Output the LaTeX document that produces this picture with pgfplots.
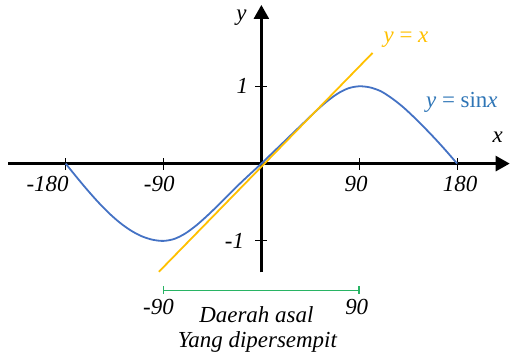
\documentclass[border=0pt]{standalone}
\usepackage{fontspec}
\setmainfont{Liberation Serif}
\usepackage{pgfplots}
\pgfplotsset{compat=1.18}
\usetikzlibrary{arrows.meta}
\definecolor{sinblue}{RGB}{68,114,196}
\definecolor{sinlab}{RGB}{46,117,182}
\definecolor{gold}{RGB}{255,192,0}
\definecolor{grn}{RGB}{40,180,100}
\tikzset{lab/.style={font=\fontsize{23}{27}\selectfont\itshape, inner sep=0pt}}
\begin{document}
\begin{tikzpicture}
\begin{axis}[
  scale only axis,
  width=502.9pt, height=268pt,
  xmin=-233, xmax=228.4, ymin=-1.406, ymax=2.052,
  axis lines=middle,
  axis line style={line width=2.6pt, -{Triangle[length=14pt,width=15pt]}},
  xtick={-180,-90,90,180}, ytick={-1,1},
  xticklabels={}, yticklabels={},
  tick align=center, major tick length=12pt,
  tick style={line width=1pt, black},
  clip=false,
]
\path (axis cs:-240.4,2.116) rectangle (axis cs:228.4,-2.542);
% y = sin x
\addplot[sinblue, line width=1.8pt, smooth] coordinates {
(-180,0) (-170,-0.174) (-160,-0.342) (-150,-0.5) (-140,-0.643) (-130,-0.766)
(-120,-0.866) (-110,-0.940) (-100,-0.985) (-90,-1.0)
(-80,-0.974) (-70,-0.904) (-60,-0.801) (-50,-0.677) (-40,-0.542) (-30,-0.402)
(-20,-0.262) (-10,-0.13) (0,0)
(10,0.136) (20,0.271) (30,0.407) (40,0.542) (50,0.677) (60,0.801) (70,0.904)
(80,0.974) (90,1.0)
(100,0.985) (110,0.935) (120,0.845) (130,0.735) (140,0.605) (150,0.465)
(160,0.318) (170,0.163) (180,0)};
% y = x
\addplot[gold, line width=1.8pt] coordinates {(-94.3,-1.40) (102.3,1.432)};
% restricted domain
\addplot[grn, line width=1.6pt] coordinates {(-90,-1.639) (90,-1.639)};
\addplot[grn, line width=1.6pt] coordinates {(-90,-1.589) (-90,-1.689)};
\addplot[grn, line width=1.6pt] coordinates {(90,-1.589) (90,-1.689)};
% tick labels
\node[lab] at (axis cs:-196.6,-0.26) {-180};
\node[lab] at (axis cs:-93.9,-0.26) {-90};
\node[lab] at (axis cs:87.1,-0.26) {90};
\node[lab] at (axis cs:182.8,-0.26) {180};
\node[lab] at (axis cs:-17.4,1.0) {1};
\node[lab] at (axis cs:-24.8,-0.994) {-1};
\node[lab] at (axis cs:-18.3,1.884) {y};
\node[lab] at (axis cs:217.4,0.335) {x};
\node[lab, text=gold] at (axis cs:133,1.6) {y {\upshape=} x};
\node[lab, text=sinlab] at (axis cs:184.4,0.787) {y {\upshape= sin}x};
\node[lab] at (axis cs:-94.6,-1.858) {-90};
\node[lab] at (axis cs:87.7,-1.858) {90};
\node[lab] at (axis cs:-4.6,-1.948) {Daerah asal};
\node[lab] at (axis cs:-3.7,-2.31) {Yang dipersempit};
\end{axis}
\end{tikzpicture}
\end{document}
